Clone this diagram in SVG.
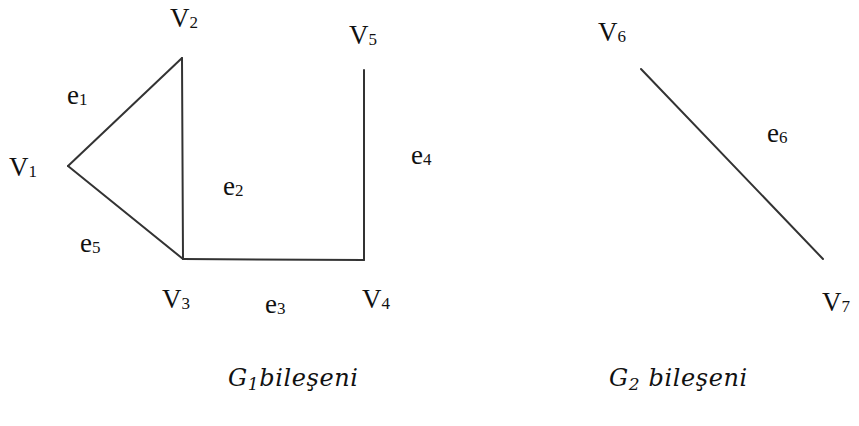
<svg xmlns="http://www.w3.org/2000/svg" width="859" height="426" viewBox="0 0 859 426">
<style>
.lbl{font-family:"Liberation Serif","Times New Roman",serif;font-size:27px;fill:#111}
.sub{font-size:17px}
.cap{font-family:"DejaVu Serif","Liberation Serif",serif;font-style:italic;font-size:24px;letter-spacing:0.6px;fill:#111}
.capsub{font-size:17px}
.edge{stroke:#333;stroke-width:2;fill:none;stroke-linecap:round}
</style>
<rect width="859" height="426" fill="#fff"/>
<g id="connectors">
<line class="edge" x1="68" y1="166" x2="182" y2="58"/>
<line class="edge" x1="182" y1="58" x2="183" y2="259"/>
<line class="edge" x1="68" y1="166" x2="183" y2="259"/>
<line class="edge" x1="183" y1="259" x2="364" y2="260"/>
<line class="edge" x1="364" y1="70" x2="364" y2="260"/>
<line class="edge" x1="641" y1="69" x2="823" y2="259"/>
<text class="lbl" x="67" y="104">e<tspan class="sub" dy="1">1</tspan></text>
<text class="lbl" x="223" y="195">e<tspan class="sub" dy="1">2</tspan></text>
<text class="lbl" x="265" y="313">e<tspan class="sub" dy="1">3</tspan></text>
<text class="lbl" x="411" y="164">e<tspan class="sub" dy="1">4</tspan></text>
<text class="lbl" x="80" y="252">e<tspan class="sub" dy="1">5</tspan></text>
<text class="lbl" x="767" y="142">e<tspan class="sub" dy="1">6</tspan></text>
</g>
<g id="V1"><text class="lbl" x="9" y="176">V<tspan class="sub" dy="1">1</tspan></text></g>
<g id="V2"><text class="lbl" x="170" y="27">V<tspan class="sub" dy="1">2</tspan></text></g>
<g id="V3"><text class="lbl" x="162" y="308">V<tspan class="sub" dy="1">3</tspan></text></g>
<g id="V4"><text class="lbl" x="362" y="308">V<tspan class="sub" dy="1">4</tspan></text></g>
<g id="V5"><text class="lbl" x="349" y="44">V<tspan class="sub" dy="1">5</tspan></text></g>
<g id="V6"><text class="lbl" x="598" y="41">V<tspan class="sub" dy="1">6</tspan></text></g>
<g id="V7"><text class="lbl" x="822" y="311">V<tspan class="sub" dy="1">7</tspan></text></g>
<g id="G1"><text class="cap" x="228" y="386">G<tspan class="capsub" dy="4">1</tspan><tspan dy="-4">bileşeni</tspan></text></g>
<g id="G2"><text class="cap" x="609" y="386">G<tspan class="capsub" dy="4">2</tspan><tspan dy="-4"> bileşeni</tspan></text></g>
</svg>
